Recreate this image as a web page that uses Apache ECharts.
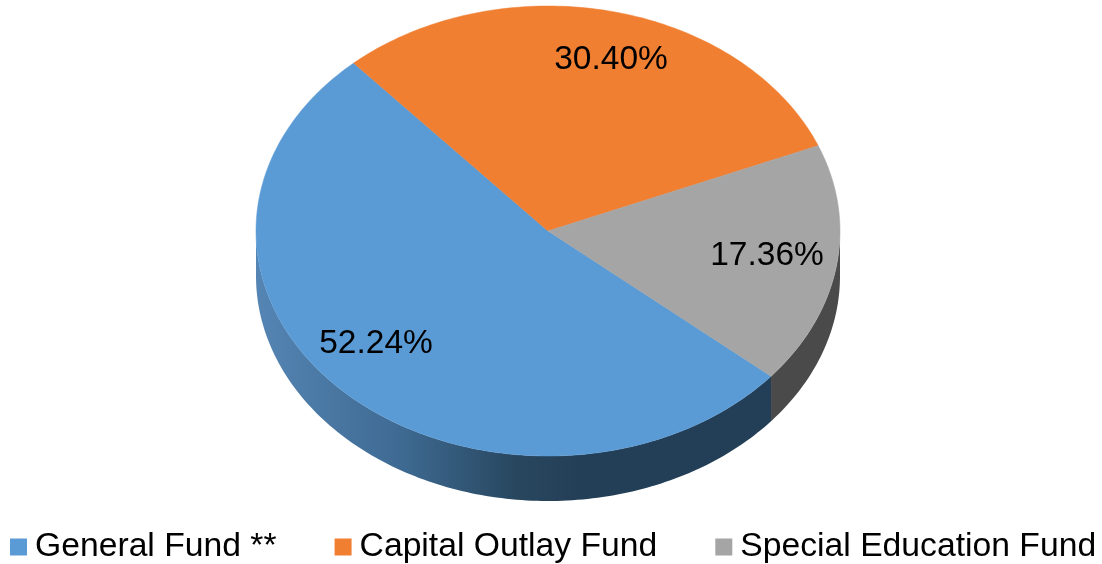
<!DOCTYPE html>
<html>
<head>
<meta charset="utf-8">
<style>
html,body{margin:0;padding:0;background:#fff}
#main{width:1102px;height:564px}
</style>
<script src="https://cdn.jsdelivr.net/npm/echarts@6/dist/echarts.min.js"></script>
</head>
<body>
<div id="main"></div>
<script>
var categories = ['General Fund **', 'Capital Outlay Fund', 'Special Education Fund'];
var fundValues = [52.24, 30.40, 17.36];
var valueLabels = ['52.24%', '30.40%', '17.36%'];
var colors = ['#5B9BD5', '#F07F32', '#A5A5A5'];

// pie geometry, slices run clockwise from startDeg (0 = top)
var cx = 548, cy = 231, rx = 292, ry = 225, depth = 45, startDeg = 130.2;
var labelAt = [[376, 344], [611, 60], [767, 256]];
var fontName = '"Liberation Sans", Arial, sans-serif';

var total = fundValues.reduce(function (a, b) { return a + b; }, 0);

function pt(deg, dy) {
	var r = deg * Math.PI / 180;
	return [cx + rx * Math.sin(r), cy - ry * Math.cos(r) + (dy || 0)];
}

function arcPoints(from, to, dy) {
	var pts = [];
	for (var d = from; d < to; d += 1) {
		pts.push(pt(d, dy));
	}
	pts.push(pt(to, dy));
	return pts;
}

function wallFill(i) {
	if (i == 0) {
		return new echarts.graphic.LinearGradient(256, 0, 580, 0, [
			{offset: 0, color: '#5585B4'},
			{offset: 0.45, color: '#3E6A92'},
			{offset: 0.8, color: '#28475F'},
			{offset: 1, color: '#233F57'}
		], true);
	}
	return '#4A4A4A';
}

function renderSlice(i) {
	return function (params, api) {
		var before = 0;
		for (var k = 0; k < i; k++) {
			before += fundValues[k];
		}
		var from = (startDeg + before / total * 360) % 360;
		var to = from + api.value(0) / total * 360;
		var children = [];

		// side wall, only the part facing the viewer (90..270 deg)
		var wallFrom = Math.max(from, 90), wallTo = Math.min(to, 270);
		if (wallTo > wallFrom) {
			var wall = arcPoints(wallFrom, wallTo, 0).concat(arcPoints(wallFrom, wallTo, depth).reverse());
			children.push({
				type: 'polygon',
				shape: {points: wall},
				style: {fill: wallFill(i)}
			});
		}

		var top = [[cx, cy]].concat(arcPoints(from, to, 0));
		children.push({
			type: 'polygon',
			shape: {points: top},
			style: {fill: colors[i], stroke: colors[i], lineWidth: 0.5}
		});
		children.push({
			type: 'text',
			z2: 10,
			style: {
				x: labelAt[i][0],
				y: labelAt[i][1],
				text: valueLabels[i],
				fill: '#000',
				font: '33.5px ' + fontName,
				textAlign: 'center',
				textVerticalAlign: 'middle'
			}
		});
		return {type: 'group', children: children};
	};
}

var series = [];
for (var i = 0; i < categories.length; i++) {
	series.push({
		name: categories[i],
		type: 'custom',
		coordinateSystem: 'none',
		animation: false,
		silent: true,
		itemStyle: {color: colors[i]},
		encode: {value: 0},
		renderItem: renderSlice(i),
		data: [[fundValues[i]]]
	});
}

var myChart = echarts.init(document.getElementById('main'), null, {renderer: 'canvas'});
myChart.setOption({
	backgroundColor: '#fff',
	animation: false,
	legend: {
		left: 10,
		top: 530,
		icon: 'rect',
		itemWidth: 17,
		itemHeight: 17,
		itemGap: 58,
		padding: 0,
		selectedMode: false,
		textStyle: {
			color: '#000',
			fontFamily: fontName,
			fontSize: 33.7,
			padding: [0, 0, 0, 3]
		},
		data: categories
	},
	series: series
});
</script>
</body>
</html>
